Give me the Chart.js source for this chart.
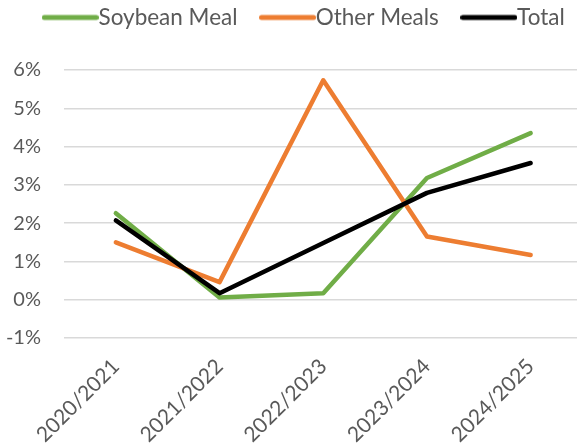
<!DOCTYPE html>
<html><head><meta charset="utf-8">
<script src="https://cdn.jsdelivr.net/npm/chart.js@4/dist/chart.umd.min.js"></script>
<style>
html,body{margin:0;padding:0;background:#fff;overflow:hidden;}
#wrap{width:577px;height:445px;overflow:hidden;position:relative;}
#box{width:604px;height:445px;position:absolute;left:0;top:0;}
</style></head><body>
<div id="wrap"><div id="box"><canvas id="c"></canvas></div></div>
<script>
const categories = ['2020/2021', '2021/2022', '2022/2023', '2023/2024', '2024/2025'];
const soybeanMeal = [2.26, 0.06, 0.17, 3.18, 4.35];
const otherMeals = [1.50, 0.46, 5.73, 1.65, 1.17];
const total = [2.07, 0.17, 1.48, 2.79, 3.57];
const seriesNames = ['Soybean Meal', 'Other Meals', 'Total'];
const seriesColors = ['#70AD47', '#ED7D31', '#000000'];
const yMin = -1, yMax = 6, yStep = 1;

const FONT = 'Lato';
const LEGEND_SIZE = 22.5;
const X_TICK_SIZE = 21;
const Y_TICK_SIZE = 20;
const BOXW = 34;
const LEG_PAD = 33;
const LEG_DX = 7;

function legendLine(color) {
  const w = Math.round(BOXW + LEGEND_SIZE), h = 8;
  const c = document.createElement('canvas');
  c.width = w; c.height = h;
  const x = c.getContext('2d');
  x.strokeStyle = color; x.lineWidth = 5; x.lineCap = 'round';
  x.beginPath(); x.moveTo(2.5, h / 2); x.lineTo(w - 2.5, h / 2); x.stroke();
  return c;
}

const legendTweak = {
  id: 'legendTweak',
  beforeUpdate(chart) {
    const l = chart.legend;
    if (l && !l._patched) {
      l._patched = true;
      const origFit = l.fit.bind(l);
      l.fit = function () { this.maxWidth = 2000; origFit(); this.height = 70; };
    }
  },
  afterLayout(chart) {
    const l = chart.legend;
    if (l) {
      l.top = 17.5 - LEGEND_SIZE / 2 - LEG_PAD;
      l.left = 0 + LEG_DX; l.right = 604 + LEG_DX; l.width = 604;
    }
  }
};

const data = {
  labels: categories,
  datasets: [
    { label: seriesNames[0], data: soybeanMeal, borderColor: seriesColors[0], backgroundColor: seriesColors[0], order: 3 },
    { label: seriesNames[1], data: otherMeals, borderColor: seriesColors[1], backgroundColor: seriesColors[1], order: 2 },
    { label: seriesNames[2], data: total, borderColor: seriesColors[2], backgroundColor: seriesColors[2], order: 1 }
  ]
};

new Chart(document.getElementById('c'), {
  type: 'line',
  data: data,
  plugins: [legendTweak],
  options: {
    responsive: true,
    maintainAspectRatio: false,
    animation: false,
    layout: { padding: { left: 0, right: 604 - 582.5, top: 0, bottom: 0 } },
    elements: {
      line: { tension: 0, borderWidth: 4.5, borderCapStyle: 'round', borderJoinStyle: 'round' },
      point: { radius: 0, hoverRadius: 0 }
    },
    plugins: {
      tooltip: { enabled: false },
      legend: {
        position: 'top',
        labels: {
          font: { family: FONT, size: LEGEND_SIZE },
          color: '#595959',
          padding: LEG_PAD,
          usePointStyle: true,
          pointStyleWidth: BOXW,
          sort: (a, b) => a.datasetIndex - b.datasetIndex,
          generateLabels(chart) {
            const items = Chart.defaults.plugins.legend.labels.generateLabels(chart);
            items.forEach(it => { it.pointStyle = legendLine(seriesColors[it.datasetIndex]); });
            return items;
          }
        }
      }
    },
    scales: {
      x: {
        offset: true,
        grid: { display: false, offset: true },
        border: { display: false },
        ticks: {
          font: { family: FONT, size: X_TICK_SIZE },
          color: '#595959',
          maxRotation: 45, minRotation: 45,
          padding: 8
        },
        afterFit(s) { s.height = 107; }
      },
      y: {
        min: yMin, max: yMax,
        grid: { color: '#D9D9D9', lineWidth: 1.5, drawTicks: false },
        border: { display: false },
        ticks: {
          stepSize: yStep,
          font: { family: FONT, size: Y_TICK_SIZE },
          color: '#595959',
          padding: 23,
          callback: v => v + '%'
        },
        afterFit(s) { s.width = 64; }
      }
    }
  }
});
</script>
</body></html>
